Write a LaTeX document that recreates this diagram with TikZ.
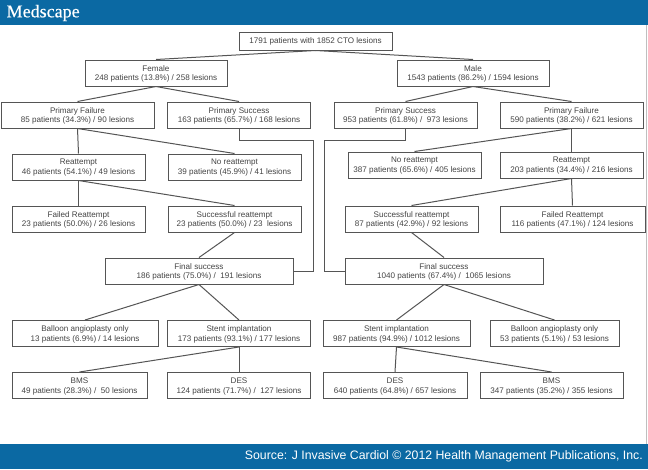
\documentclass[tikz,border=0pt]{standalone}
\usepackage{fontspec}
\setmainfont{Liberation Sans}
\newfontfamily\logofont[FakeBold=0.5]{Liberation Serif}
\definecolor{bannerblue}{HTML}{0B69A3}
\definecolor{boxgray}{HTML}{555555}
\definecolor{textgray}{HTML}{444444}
\tikzset{
    box/.style={draw=boxgray, line width=1pt, inner sep=0pt, align=center, text=textgray, text depth=0pt,
        font=\fontsize{8.1}{9.8}\selectfont},
    link/.style={draw=boxgray, line width=1pt}
}

\begin{document}
\begin{tikzpicture}[x=1pt, y=-1pt]
    \useasboundingbox (0,0) rectangle (648,469);
    \fill[white] (0,0) rectangle (648,469);
    \fill[bannerblue] (0,0) rectangle (648,25);
    \fill[bannerblue] (0,444) rectangle (648,469);
    \draw[gray!50, line width=0.8pt] (646.8,25) -- (646.8,444);
    \node[anchor=west, inner sep=0pt, text=white, font=\logofont\fontsize{18}{18}\selectfont] (logo) at (6.5,13) {Medscape};
    \node[anchor=east, inner sep=0pt, text=white, font=\fontsize{12.3}{14}\selectfont] (source) at (643,456.5)
        {Source: J Invasive Cardiol © 2012 Health Management Publications, Inc.};
    \node[box, minimum width=153, minimum height=18] (root) at (315.5,41) {1791 patients with 1852 CTO lesions};
    \foreach \name/\x/\y/\w/\head/\body in {
        female/156/73/142/Female/{248 patients (13.8\%) / 258 lesions},
        male/473/73/152/Male/{1543 patients (86.2\%) / 1594 lesions},
        fpf/77.5/115/153/Primary Failure/{85 patients (34.3\%) / 90 lesions},
        fps/239/115/143/Primary Success/{163 patients (65.7\%) / 168 lesions},
        mps/405.5/115/143/Primary Success/{953 patients (61.8\%) /~ 973 lesions},
        mpf/571.5/115/143/Primary Failure/{590 patients (38.2\%) / 621 lesions},
        fre/78.5/167/133/Reattempt/{46 patients (54.1\%) / 49 lesions},
        fno/234.5/167/133/No reattempt/{39 patients (45.9\%) / 41 lesions},
        mno/414.5/165/133/No reattempt/{387 patients (65.6\%) / 405 lesions},
        mre/571.5/165/143/Reattempt/{203 patients (34.4\%) / 216 lesions},
        ffa/78.5/219/133/Failed Reattempt/{23 patients (50.0\%) / 26 lesions},
        fsu/234.5/219/133/Successful reattempt/{23 patients (50.0\%) / 23~ lesions},
        msu/411.5/219/133/Successful reattempt/{87 patients (42.9\%) / 92 lesions},
        mfa/572.5/219/145/Failed Reattempt/{116 patients (47.1\%) / 124 lesions},
        ffin/199/271/188/Final success/{186 patients (75.0\%) /~ 191 lesions},
        mfin/444/271/198/Final success/{1040 patients (67.4\%) /~ 1065 lesions},
        fba/85/333.5/146/Balloon angioplasty only/{13 patients (6.9\%) / 14 lesions},
        fst/239/333.5/143/Stent implantation/{173 patients (93.1\%) / 177 lesions},
        mst/396.5/333.5/147/Stent implantation/{987 patients (94.9\%) / 1012 lesions},
        mba/554.5/333.5/129/Balloon angioplasty only/{53 patients (5.1\%) / 53 lesions},
        fbm/79.5/385.5/135/BMS/{49 patients (28.3\%) /~ 50 lesions},
        fde/239/385.5/143/DES/{124 patients (71.7\%) /~ 127 lesions},
        mde/395/385.5/144/DES/{640 patients (64.8\%) / 657 lesions},
        mbm/551.5/385.5/143/BMS/{347 patients (35.2\%) / 355 lesions}%
    }
        \node[box, minimum width=\w, minimum height=26] (\name) at (\x,\y) {\head\\\body};
    \foreach \a/\b in {
        root/female, root/male, female/fpf, female/fps, male/mps, male/mpf,
        fpf/fre, fpf/fno, mpf/mno, mpf/mre, fre/ffa, fre/fsu, mre/msu, mre/mfa,
        fsu/ffin, msu/mfin, ffin/fba, ffin/fst, mfin/mst, mfin/mba,
        fst/fbm, fst/fde, mst/mde, mst/mbm%
    }
        \draw[link] (\a.south) -- (\b.north);
    \coordinate (fturn) at (313,140);
    \coordinate (mturn) at (324,140);
    \draw[link] (fps.south) |- (fturn) |- (ffin.east);
    \draw[link] (mps.south) |- (mturn) |- (mfin.west);
\end{tikzpicture}
\end{document}
